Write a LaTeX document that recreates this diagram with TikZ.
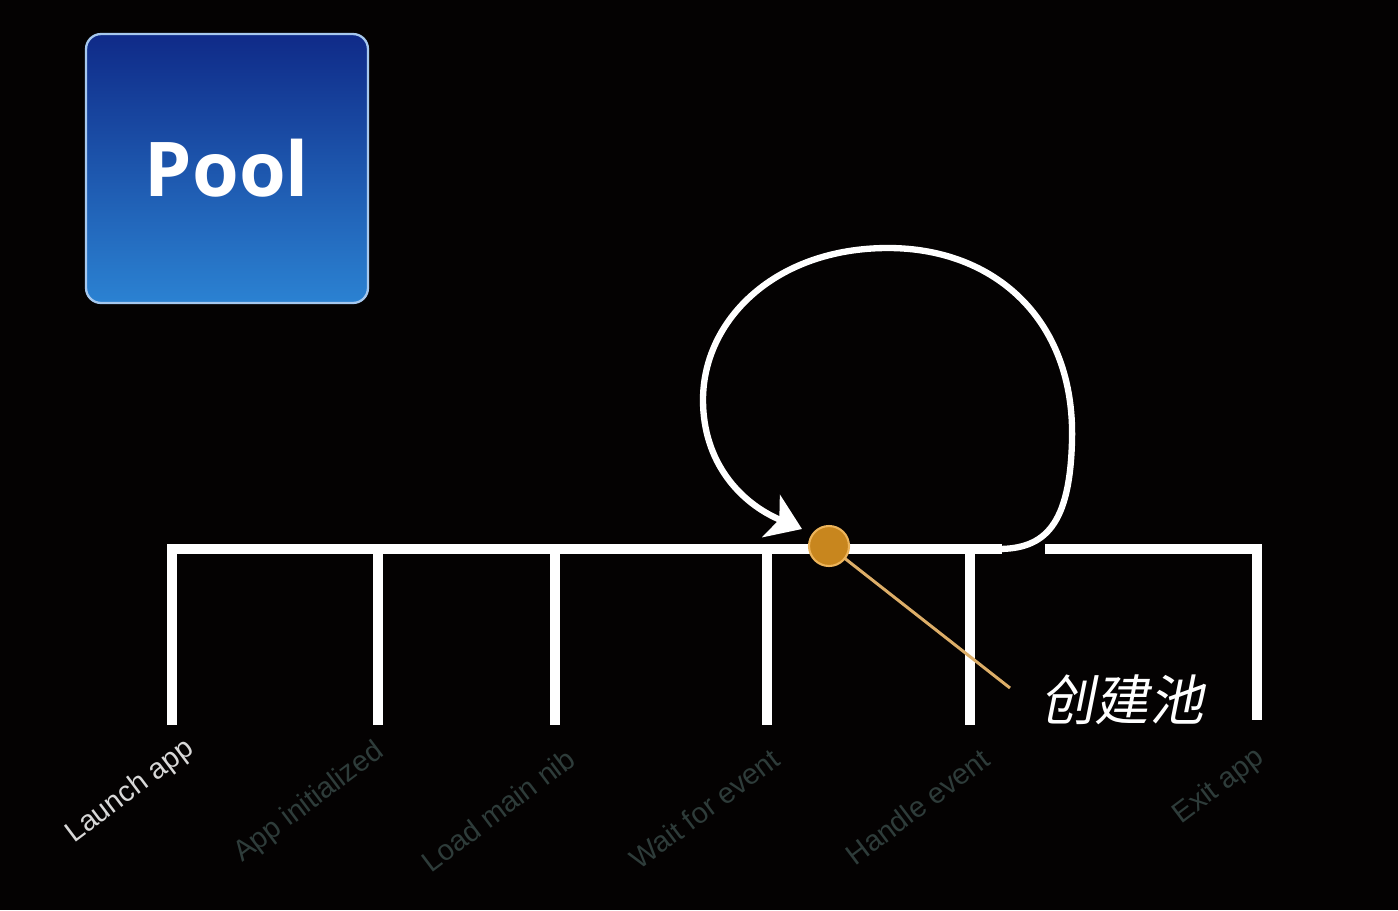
\documentclass[tikz,border=0pt]{standalone}
\usepackage{fontspec}
\setmainfont{Liberation Sans}
\newfontfamily\poolfont{Open Sans}
\newfontfamily\cjkfont[FakeSlant=0.2]{Noto Sans CJK SC}
\usetikzlibrary{arrows.meta}
\definecolor{bg}{HTML}{040202}
\definecolor{pooltop}{HTML}{0F2A88}
\definecolor{poolbot}{HTML}{2B82D2}
\definecolor{poolborder}{HTML}{A6C8EE}
\definecolor{dotfill}{HTML}{C8861E}
\definecolor{dotrim}{HTML}{EDB45A}
\definecolor{pincol}{HTML}{DDAE68}
\definecolor{dimlab}{HTML}{2E3C3A}
\definecolor{brightlab}{HTML}{D8D8D8}
\tikzset{
  tl/.style={draw=white, line width=5.6pt, line join=miter},
  loopline/.style={draw=white, line width=3.6pt, line cap=round},
  lab/.style={inner sep=0pt, anchor=east, rotate=37, font=\fontsize{16.5}{16.5}\selectfont},
}
\begin{document}
\begin{tikzpicture}[x=0.02cm,y=-0.02cm]
\fill[bg] (0,0) rectangle (1398,910);
\useasboundingbox (0,0) rectangle (1398,910);

% Pool box
\node[draw=poolborder, line width=1.3pt, rounded corners=0.3cm,
      top color=pooltop, bottom color=poolbot,
      minimum width=5.64cm, minimum height=5.38cm, inner sep=0pt,
      text=white, font=\poolfont\bfseries\fontsize{43}{43}\selectfont] (pool) at (227,168.5) {Pool};

% timeline coordinates
\coordinate (a0) at (172,549);
\coordinate (a1) at (378,549);
\coordinate (a2) at (555,549);
\coordinate (a3) at (767,549);
\coordinate (a4) at (970,549);
\coordinate (aend) at (1002,549);
\coordinate (b0) at (172,725);
\coordinate (b1) at (378,725);
\coordinate (b2) at (555,725);
\coordinate (b3) at (767,725);
\coordinate (b4) at (970,725);
\coordinate (c0) at (1045,549);
\coordinate (c1) at (1257,549);
\coordinate (c2) at (1257,720);

\draw[tl] (b0) -- (a0) -- (aend);
\draw[tl] (a1) -- (b1);
\draw[tl] (a2) -- (b2);
\draw[tl] (a3) -- (b3);
\draw[tl] (a4) -- (b4);
\draw[tl] (c0) -- (c1) -- (c2);

% loop
\coordinate (loopend) at (802,529);
\draw[loopline, -{Stealth[length=19pt, width=26pt, inset=5pt]}]
  (998,549) .. controls (1045,549) and (1070,525) .. (1072,440)
  .. controls (1075,320) and (995,248) .. (888,248)
  .. controls (775,248) and (703,320) .. (703,400)
  .. controls (703,462) and (740,503) .. (loopend);

% orange marker
\coordinate (pinend) at (1010,688);
\draw[pincol, line width=1.7pt] (829,546) -- (pinend);
\node[circle, fill=dotfill, draw=dotrim, line width=1.2pt, minimum size=0.8cm, inner sep=0pt] (dot) at (829,546) {};

\node[text=white, inner sep=0pt, font=\cjkfont\fontsize{31}{31}\selectfont] (create) at (1122,700) {创建池};

% labels
\node[lab, text=brightlab] (l0) at (191,746) {Launch app};
\node[lab, text=dimlab] (l1) at (381,749) {App initialized};
\node[lab, text=dimlab] (l2) at (571,755) {Load main nib};
\node[lab, text=dimlab] (l3) at (776,755) {Wait for event};
\node[lab, text=dimlab] (l4) at (986,755) {Handle event};
\node[lab, text=dimlab] (l5) at (1261,755) {Exit app};
\end{tikzpicture}
\end{document}
